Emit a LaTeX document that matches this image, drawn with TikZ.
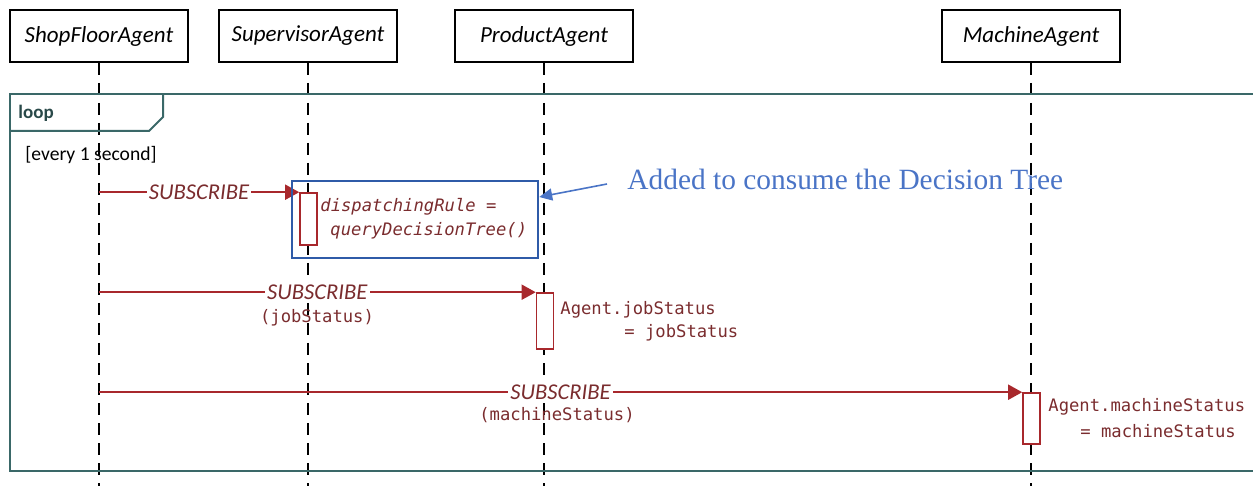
\documentclass[tikz,border=0pt]{standalone}
\usepackage{fontspec}
\setmainfont{Carlito}
\newfontfamily\codefont{DejaVu Sans Mono}
\newfontfamily\notefont{Liberation Serif}
\usetikzlibrary{arrows.meta}
\definecolor{framecol}{HTML}{3A6868}
\definecolor{msgcol}{HTML}{A8282C}
\definecolor{msgtext}{HTML}{7A2C2E}
\definecolor{notebox}{HTML}{2F5BA8}
\definecolor{notetext}{HTML}{4A74C6}
\tikzset{
  head/.style={draw=black, line width=1pt, fill=white, minimum width=89pt, minimum height=26pt,
    inner sep=0pt, font=\fontsize{11.5}{13}\selectfont\itshape},
  life/.style={black, line width=0.75pt, dash pattern=on 6pt off 4pt},
  frameline/.style={framecol, line width=1pt},
  act/.style={draw=msgcol, line width=0.8pt, fill=white, minimum width=8.5pt, inner sep=0pt},
  msg/.style={msgcol, line width=0.9pt, -{Triangle[length=7pt,width=7.5pt]}},
  lbl/.style={fill=white, inner sep=1pt, text=msgtext, font=\fontsize{11.3}{13}\selectfont\itshape},
  param/.style={inner sep=0pt, text=msgtext, font=\codefont\fontsize{8.6}{10}\selectfont},
  code/.style={inner sep=0pt, anchor=west, text=msgtext, font=\codefont\fontsize{8.6}{10}\selectfont},
  icode/.style={code, font=\codefont\itshape\fontsize{8.6}{10}\selectfont},
}
\begin{document}
\begin{tikzpicture}[x=0.5pt, y=-0.5pt]
\useasboundingbox (0,0) rectangle (1253,486);

% lifeline heads
\node[head] (sf)   at (99,36)   {ShopFloorAgent};
\node[head] (sup)  at (308,36)  {SupervisorAgent};
\node[head] (prod) at (544,36)  {ProductAgent};
\node[head] (mach) at (1031,36) {MachineAgent};

% lifelines
\foreach \n in {sf,sup,prod,mach}
  \draw[life] (\n.south) -- (\n.south |- 0,486);

% combined fragment "loop"
\draw[frameline] (1253,94) -- (10,94) -- (10,471) -- (1253,471);
\draw[frameline] (10,131) -- (149,131) -- (163,117) -- (163,94);
\node[anchor=west, inner sep=0pt, text=framecol!70!black, font=\fontsize{9.5}{11}\selectfont\bfseries] (looplbl) at (18,113) {loop};
\node[anchor=west, inner sep=0pt, font=\fontsize{9.8}{11}\selectfont] (guard) at (25,155) {[every 1 second]};

% activations
\node[act, minimum height=26pt] (a1) at (308.5,219) {};
\node[act, minimum height=28pt] (a2) at (545,321) {};
\node[act, minimum height=25.5pt] (a3) at (1031.5,418.5) {};

% messages
\coordinate (s1) at (sf.south |- a1.north);
\coordinate (s2) at (sf.south |- a2.north);
\coordinate (s3) at (sf.south |- a3.north);
\draw[msg] (s1) -- node[lbl] (l1) {SUBSCRIBE} (a1.north west);
\draw[msg] (s2) -- node[lbl] (l2) {SUBSCRIBE} (a2.north west);
\draw[msg] (s3) -- node[lbl] (l3) {SUBSCRIBE} (a3.north west);
\node[param] (p2) at (317,318) {(jobStatus)};
\node[param] (p3) at (557,415) {(machineStatus)};

% actions
\node[icode] (d1) at (320,207) {dispatchingRule =};
\node[icode] (d2) at (330,231) {queryDecisionTree()};
\node[code] (j1) at (560,310) {Agent.jobStatus};
\node[code] (j2) at (624,333) {= jobStatus};
\node[code] (k1) at (1048,407) {Agent.machineStatus};
\node[code] (k2) at (1080,431) {= machineStatus};

% annotation
\node[draw=notebox, line width=1.2pt, minimum width=123pt, minimum height=38.5pt, inner sep=0pt] (blue) at (415,219.5) {};
\node[anchor=west, inner sep=0pt, text=notetext, font=\notefont\fontsize{14.7}{18}\selectfont] (note) at (627,179) {Added to consume the Decision Tree};
\coordinate (ann) at (607,184);
\draw[notetext, line width=0.8pt, -{Triangle[length=6.5pt,width=6pt]}] (ann) -- ([yshift=11.25pt]blue.east);
\end{tikzpicture}
\end{document}
